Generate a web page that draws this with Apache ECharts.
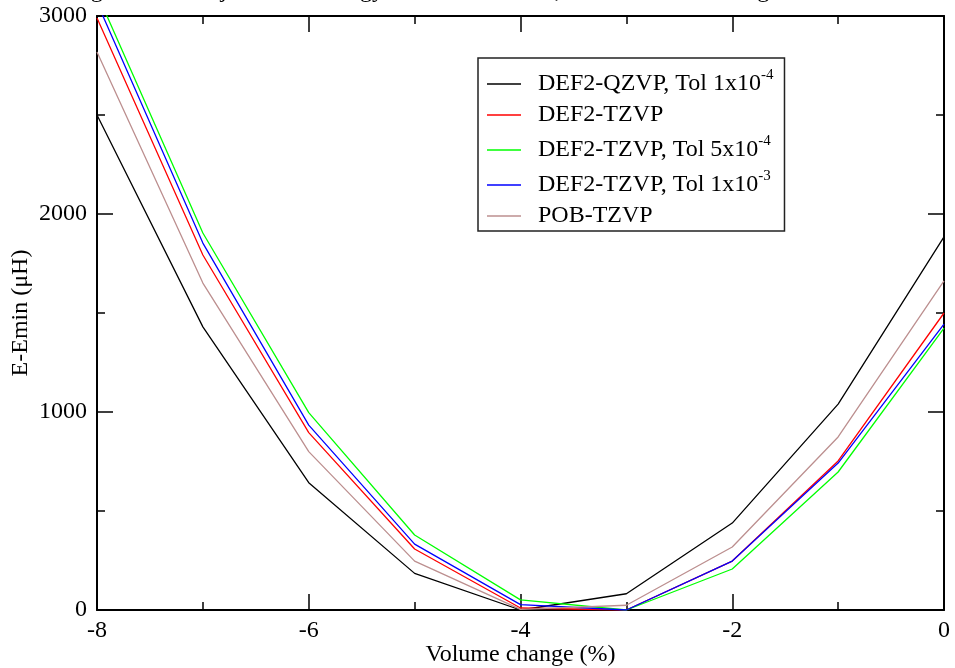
<!DOCTYPE html>
<html>
<head>
<meta charset="utf-8">
<script src="https://cdn.jsdelivr.net/npm/echarts@6/dist/echarts.min.js"></script>
<style>html,body{margin:0;padding:0;background:#fff;}#c{width:955px;height:668px;}</style>
</head>
<body>
<div id="c"></div>
<script>
const volumeChange = [-8, -7, -6, -5, -4, -3, -2, -1, 0];
const qzvpTol1e4 = [2500, 1430, 643, 185, 0, 82, 439, 1040, 1884];
const tzvp = [2990, 1793, 896, 308, 10, 0, 247, 753, 1500];
const tzvpTol5e4 = [3114, 1904, 997, 379, 51, 0, 207, 697, 1424];
const tzvpTol1e3 = [3068, 1853, 934, 333, 27, 0, 247, 742, 1444];
const pobTzvp = [2818, 1651, 800, 247, 3, 24, 318, 874, 1662];
const seriesNames = ['DEF2-QZVP, Tol 1x10^-4', 'DEF2-TZVP', 'DEF2-TZVP, Tol 5x10^-4', 'DEF2-TZVP, Tol 1x10^-3', 'POB-TZVP'];
const xTicks = [-8, -6, -4, -2, 0];
const yTicks = [0, 1000, 2000, 3000];
const titleText = 'Change in the readjusted net energy for each basis set, versus volume change';

const FONT = 'Liberation Serif';
const colors = ['#000000', '#ff0000', '#00ff00', '#0000ff', '#bc8f8f'];
const allData = [qzvpTol1e4, tzvp, tzvpTol5e4, tzvpTol1e3, pobTzvp];

function legendFmt(name) {
  const m = name.match(/^(.*)\^(-?\d+)$/);
  if (m) return '{t|' + m[1] + '}{s|' + m[2] + '}';
  return '{t|' + name + '}';
}

const axisCommon = {
  axisLine: { show: true, onZero: false, lineStyle: { color: '#000', width: 2 } },
  axisTick: { show: true, inside: true, length: 16, lineStyle: { color: '#000', width: 1.5 } },
  minorTick: { show: true, splitNumber: 2, length: 8, lineStyle: { color: '#000', width: 1.5 } },
  splitLine: { show: false },
  minorSplitLine: { show: false }
};

const chart = echarts.init(document.getElementById('c'), null, { renderer: 'canvas' });
chart.setOption({
  animation: false,
  backgroundColor: '#fff',
  title: {
    text: titleText,
    left: 40,
    top: -21,
    padding: 0,
    textStyle: { fontFamily: FONT, fontSize: 24, fontWeight: 'normal', color: '#000' }
  },
  grid: { left: 97, right: 11, top: 16, bottom: 58, containLabel: false, outerBoundsMode: 'none' },
  legend: {
    orient: 'vertical',
    left: 478,
    top: 58,
    data: seriesNames,
    icon: 'rect',
    itemWidth: 34,
    itemHeight: 1.5,
    itemGap: 7,
    padding: [10, 11, 3, 9],
    borderColor: '#222',
    borderWidth: 1.5,
    backgroundColor: '#fff',
    formatter: legendFmt,
    textStyle: {
      fontFamily: FONT, fontSize: 24, color: '#000',
      rich: {
        t: { fontFamily: FONT, fontSize: 24, lineHeight: 24, color: '#000', verticalAlign: 'bottom', padding: [0, 0, 0, 12] },
        s: { fontFamily: FONT, fontSize: 15, lineHeight: 15, color: '#000', verticalAlign: 'bottom', padding: [0, 0, 13, 0] }
      }
    }
  },
  xAxis: [
    Object.assign({
      type: 'value', min: -8, max: 0, interval: 2, position: 'bottom',
      axisLabel: { show: true, margin: 9, color: '#000', fontFamily: FONT, fontSize: 24,
        customValues: xTicks, formatter: v => String(v) },
      name: 'Volume change (%)', nameLocation: 'middle', nameGap: 33, nameMoveOverlap: false,
      nameTextStyle: { fontFamily: FONT, fontSize: 24, color: '#000' }
    }, axisCommon),
    Object.assign({
      type: 'value', min: -8, max: 0, interval: 2, position: 'top',
      axisLabel: { show: false }
    }, axisCommon)
  ],
  yAxis: [
    Object.assign({
      type: 'value', min: 0, max: 3000, interval: 1000, position: 'left',
      axisLabel: { show: true, margin: 10, color: '#000', fontFamily: FONT, fontSize: 24,
        customValues: yTicks, formatter: v => String(v) },
      name: 'E-Emin (\u03bcH)', nameLocation: 'middle', nameGap: 64, nameRotate: 90, nameMoveOverlap: false,
      nameTextStyle: { fontFamily: FONT, fontSize: 24, color: '#000' }
    }, axisCommon),
    Object.assign({
      type: 'value', min: 0, max: 3000, interval: 1000, position: 'right',
      axisLabel: { show: false }
    }, axisCommon)
  ],
  series: seriesNames.map((n, i) => ({
    name: n,
    type: 'line',
    xAxisIndex: 0,
    yAxisIndex: 0,
    symbol: 'none',
    clip: true,
    color: colors[i],
    lineStyle: { color: colors[i], width: 1.3 },
    data: volumeChange.map((x, k) => [x, allData[i][k]])
  }))
});
</script>
</body>
</html>
